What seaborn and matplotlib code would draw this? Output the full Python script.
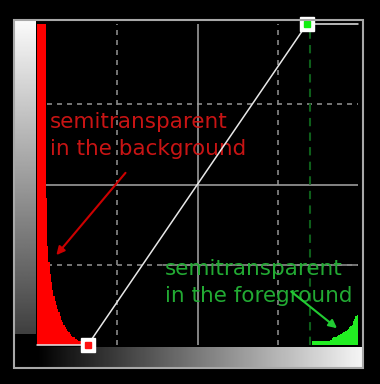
# Curves editor style chart: red/green histograms with a tone curve
import numpy as np
import matplotlib
matplotlib.use("Agg")
import matplotlib.pyplot as plt
import seaborn as sns
from matplotlib.patches import Rectangle

# data (0..256 tone scale)
red_bins = list(range(0, 41))
red_counts = [256, 256, 256, 256, 256, 256, 256, 117, 79, 66, 57, 50, 44, 39, 35, 32,
              29, 26, 23, 20, 18, 16, 14, 12.5, 11, 10, 8.5, 7.5, 6.5, 6, 5, 4.5,
              4, 3.5, 3, 2.5, 2, 2, 1.5, 1, 1]
green_bins = list(range(219, 256))
green_counts = [3, 3, 3, 3, 3, 3.5, 3, 3, 3, 3, 3.5, 3, 3, 3, 3.5, 4,
                5.5, 6, 6.5, 6, 7, 8, 8, 9, 9.5, 10, 10.5, 11, 12, 13, 14, 15, 16,
                19, 21, 23, 24]
curve_x = [0, 40.5, 215.3, 256]
curve_y = [0, 0, 256, 256]
point_x = [40.5, 215.3]
point_y = [0, 256]
point_colors = ["#ff1010", "#10ee10"]
green_marker = 218
quarters = [64, 192]
center = 128

W, H = 380, 384


def px_rect(x0, y0, x1, y1):
    return [x0 / W, 1 - y1 / H, (x1 - x0) / W, (y1 - y0) / H]


sns.set_style("dark")
fig = plt.figure(figsize=(3.8, 3.84), dpi=100, facecolor="black")

# gradient bars
grad = np.linspace(0, 1, 256)
axl = fig.add_axes(px_rect(15, 21, 36, 334))
axl.imshow(np.linspace(0.98, 0.25, 256)[:, None], cmap="gray", vmin=0, vmax=1, aspect="auto")
axl.axis("off")
axb = fig.add_axes(px_rect(36, 347, 362, 367))
axb.imshow(grad[None, :] * 0.96, cmap="gray", vmin=0, vmax=1, aspect="auto")
axb.axis("off")

# outer frame
fig.patches.append(Rectangle((14 / W, 1 - 368 / H), 349 / W, 348 / H, transform=fig.transFigure,
                             fill=False, edgecolor="#a8a8a8", lw=1.5))

ax = fig.add_axes(px_rect(37, 24, 358, 345))
ax.set_facecolor("black")
ax.set_xlim(0, 256)
ax.set_ylim(0, 256)
ax.axis("off")

# grid
for q in quarters:
    ax.axvline(q, color="#8a8a8a", lw=1.2, ls=(0, (3, 3)), zorder=1)
    ax.axhline(q, color="#8a8a8a", lw=1.2, ls=(0, (3, 3)), zorder=1)
ax.axvline(center, color="#9a9a9a", lw=1.2, zorder=1)
ax.axhline(center, color="#9a9a9a", lw=1.2, zorder=1)
ax.plot([100.5, 256], [64, 64], color="#8a8a8a", lw=1.2, zorder=1)
ax.axvline(green_marker, color="#0e5e1a", lw=1.5, ls=(0, (4, 3)), zorder=1)

# background histogram
sns.histplot(x=red_bins, weights=red_counts, binwidth=1, binrange=(0, 41), element="step",
             fill=True, color="#ff0000", alpha=1, lw=0, ax=ax, zorder=2)

ax.text(10.5, 173, "semitransparent", color="#c81414", fontsize=15.5, va="baseline", zorder=3)
ax.text(10.5, 151.5, "in the background", color="#c81414", fontsize=15.5, va="baseline", zorder=3)
ax.annotate("", xy=(14, 70), xytext=(72, 139),
            arrowprops=dict(arrowstyle="-|>", color="#cc0000", lw=1.5, mutation_scale=12), zorder=3)

# curve
sns.lineplot(x=curve_x, y=curve_y, color="#e8e8e8", lw=1.1, ax=ax, zorder=4, clip_on=False)
ax.plot(point_x, point_y, "s", ms=9.5, mfc="white", mec="white", zorder=5, clip_on=False)
for px, py, c in zip(point_x, point_y, point_colors):
    ax.plot(px, py, "s", ms=4, mfc=c, mec=c, zorder=6, clip_on=False)

# foreground histogram
sns.histplot(x=green_bins, weights=green_counts, binwidth=1, binrange=(219, 256), element="step",
             fill=True, color="#22ee22", alpha=1, lw=0, ax=ax, zorder=7)
ax.text(102, 55.8, "semitransparent", color="#22aa33", fontsize=15.5, va="baseline", zorder=8)
ax.text(102, 34.3, "in the foreground", color="#22aa33", fontsize=15.5, va="baseline", zorder=8)
ax.annotate("", xy=(241, 12), xytext=(201, 44),
            arrowprops=dict(arrowstyle="-|>", color="#22cc33", lw=1.5, mutation_scale=12), zorder=8)
ax.set_xlim(0, 256)
ax.set_ylim(0, 256)
ax.set_xlabel("")
ax.set_ylabel("")

fig.savefig("out.png", dpi=100, facecolor="black")
